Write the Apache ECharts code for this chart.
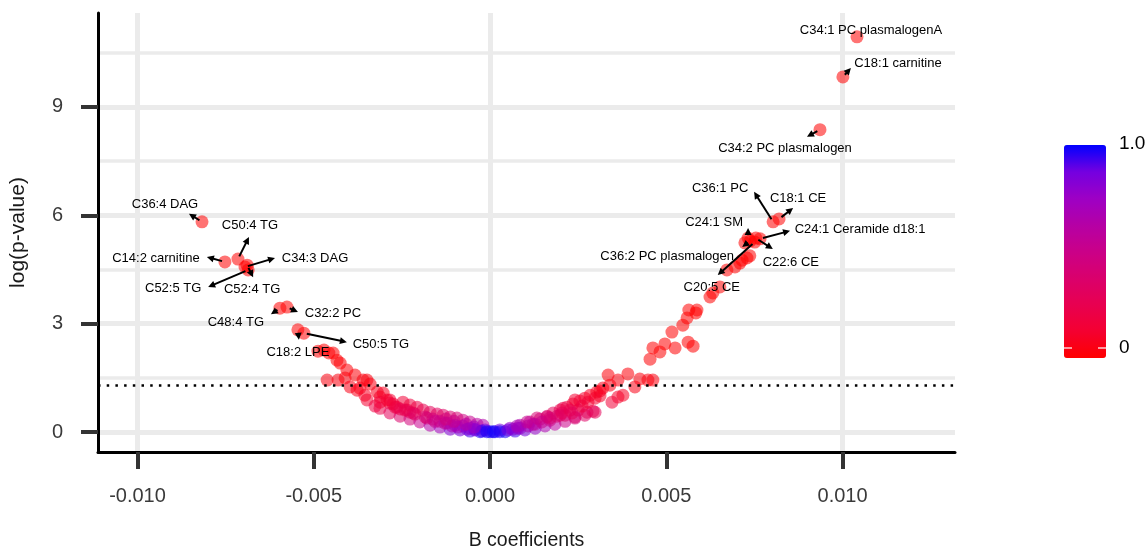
<!DOCTYPE html>
<html>
<head>
<meta charset="utf-8">
<script src="https://cdn.jsdelivr.net/npm/echarts@6/dist/echarts.min.js"></script>
<style>
  html, body { margin: 0; padding: 0; background: #fff; }
  #chart { width: 1148px; height: 549px; }
</style>
</head>
<body>
<div id="chart"></div>
<script>
// unlabeled lipids: B coefficient and -log10(p)
const bCoef = [
  -0.00488, -0.00471, -0.00457, -0.00445, -0.00434, -0.00425, -0.00406, -0.00383, -0.00360, -0.00349,
  -0.00462, -0.00431, -0.00411, -0.00397, -0.00377, -0.00369, -0.00349, -0.00355, -0.00320, -0.00312,
  -0.00312, -0.00284, -0.00284, -0.00264, -0.00235, -0.00218, -0.00340, -0.00303, -0.00247, -0.00227,
  -0.00207, -0.00190, -0.00170, -0.00150, -0.00133, -0.00113, -0.00094, -0.00077, -0.00057, -0.00037,
  -0.00020, -0.00326, -0.00284, -0.00255, -0.00227, -0.00199, -0.00170, -0.00142, -0.00113, -0.00085,
  -0.00057, -0.00028, 0.00000, -0.00312, -0.00269, -0.00227, -0.00184, -0.00142, -0.00099, -0.00057,
  -0.00014, -0.00162, -0.00122, -0.00077, -0.00043,
  -0.00292, -0.00275, -0.00255, -0.00241, -0.00213, -0.00179, -0.00156, -0.00128, -0.00108, -0.00091,
  -0.00065, -0.00043, -0.00023, -0.00009, -0.00125, -0.00102, -0.00068, -0.00045,
  0.00014, 0.00043, 0.00071, 0.00099, 0.00128, 0.00156, 0.00184, 0.00213, 0.00241, 0.00269,
  0.00298, 0.00028, 0.00057, 0.00085, 0.00113, 0.00142, 0.00162, 0.00179, 0.00199, 0.00218,
  0.00235, 0.00255, 0.00269, 0.00284, 0.00303, 0.00320, 0.00340, 0.00085, 0.00128, 0.00170,
  0.00213, 0.00250, 0.00335, 0.00391, 0.00363, 0.00425, 0.00448, 0.00462, 0.00411, 0.00312,
  0.00377, 0.00363, 0.00346, 0.00292, 0.00241, 0.00207, 0.00199, 0.00241, 0.00275, 0.00162,
  0.00133,
  0.00009, 0.00028, 0.00051, 0.00065, 0.00079, 0.00108, 0.00122, 0.00147, 0.00170, 0.00190,
  0.00204, 0.00227, 0.00233, 0.00261, 0.00278, 0.00298, 0.00312, 0.00105, 0.00077,
  0.00454, 0.00482, 0.00496, 0.00462, 0.00525, 0.00562, 0.00576, 0.00516, 0.00547,
  0.00559, 0.00587, 0.00564, 0.00584, 0.00624, 0.00632, 0.00652, 0.00672, 0.00695, 0.00715,
  0.00729, 0.00737, 0.00709, 0.00723
];
const logP = [
  2.24, 2.27, 2.19, 2.19, 1.99, 1.91, 1.72, 1.58, 1.44, 1.44,
  1.44, 1.44, 1.50, 1.25, 1.16, 1.22, 0.89, 1.02, 1.11, 0.97,
  0.66, 0.80, 0.89, 0.69, 0.61, 0.53, 1.33, 1.08, 0.83, 0.75,
  0.69, 0.61, 0.55, 0.50, 0.47, 0.42, 0.39, 0.33, 0.28, 0.22,
  0.19, 0.72, 0.53, 0.44, 0.36, 0.28, 0.19, 0.14, 0.08, 0.06,
  0.03, 0.01, 0.01, 0.83, 0.69, 0.55, 0.42, 0.30, 0.19, 0.11,
  0.06, 0.36, 0.25, 0.17, 0.08,
  0.89, 0.78, 0.64, 0.61, 0.50, 0.39, 0.30, 0.25, 0.17, 0.14,
  0.08, 0.06, 0.03, 0.01, 0.36, 0.30, 0.22, 0.14,
  0.01, 0.01, 0.03, 0.06, 0.11, 0.17, 0.22, 0.30, 0.39, 0.47,
  0.55, 0.06, 0.11, 0.19, 0.28, 0.36, 0.44, 0.53, 0.61, 0.69,
  0.78, 0.86, 0.94, 1.02, 1.11, 1.22, 1.30, 0.11, 0.22, 0.33,
  0.47, 0.61, 1.58, 1.61, 1.44, 1.47, 1.44, 1.44, 1.25, 1.14,
  1.02, 0.97, 0.83, 0.58, 0.89, 0.66, 0.47, 0.42, 0.55, 0.42,
  0.39,
  0.01, 0.01, 0.06, 0.08, 0.11, 0.17, 0.22, 0.28, 0.39, 0.44,
  0.53, 0.61, 0.53, 0.72, 0.83, 0.94, 1.00, 0.28, 0.17,
  2.02, 2.22, 2.44, 2.33, 2.33, 2.49, 2.38, 2.77, 2.96,
  3.16, 3.38, 3.38, 3.30, 3.74, 3.85, 4.02, 4.49, 4.57, 4.76,
  4.82, 4.88, 4.68, 5.24
];

// labeled lipids
const labelNames = [
  'C34:1 PC plasmalogenA', 'C18:1 carnitine', 'C34:2 PC plasmalogen', 'C36:1 PC', 'C18:1 CE',
  'C24:1 SM', 'C24:1 Ceramide d18:1', 'C22:6 CE', 'C36:2 PC plasmalogen', 'C20:5 CE',
  'C36:4 DAG', 'C14:2 carnitine', 'C50:4 TG', 'C34:3 DAG', 'C52:4 TG',
  'C52:5 TG', 'C48:4 TG', 'C32:2 PC', 'C18:2 LPE', 'C50:5 TG'
];
const labelB = [
  0.01041, 0.01001, 0.00936, 0.00803, 0.00820,
  0.00732, 0.00766, 0.00754, 0.00738, 0.00751,
  -0.00817, -0.00752, -0.00715, -0.00695, -0.00689,
  -0.00686, -0.00596, -0.00576, -0.00545, -0.00528
];
const labelLogP = [
  10.94, 9.83, 8.37, 5.82, 5.90,
  5.37, 5.35, 5.37, 5.29, 5.26,
  5.82, 4.71, 4.79, 4.57, 4.62,
  4.49, 3.43, 3.46, 2.83, 2.74
];

const xTicks = [-0.01, -0.005, 0, 0.005, 0.01];
const xMinor = [-0.0075, -0.0025, 0.0025, 0.0075, 0.0125];
const yTicks = [0, 3, 6, 9];
const yMinor = [1.5, 4.5, 7.5, 10.5];
const pCut = 0.05;

// repel-style placement, pixels from the point: arrow end dx, dy, text dx, dy
const labelPos = {
  'C34:1 PC plasmalogenA': [0, 0, 14, -6],
  'C18:1 carnitine': [8, -9, 55, -14],
  'C34:2 PC plasmalogen': [-13, 7, -35, 19],
  'C36:1 PC': [-19, -30, -53, -33],
  'C18:1 CE': [14, -11, 19, -21],
  'C24:1 SM': [0, -10, -34, -16],
  'C24:1 Ceramide d18:1': [30, -8, 100, -9],
  'C22:6 CE': [17, 11, 35, 24],
  'C36:2 PC plasmalogen': [-8, 6, -83, 15],
  'C20:5 CE': [-37, 33, -43, 45],
  'C36:4 DAG': [-13, -8, -37, -17],
  'C14:2 carnitine': [-18, -5, -69, -4],
  'C50:4 TG': [11, -22, 12, -34],
  'C34:3 DAG': [30, -9, 70, -9],
  'C52:4 TG': [6, 12, 5, 24],
  'C52:5 TG': [-40, 17, -75, 19],
  'C48:4 TG': [-9, 6, -44, 14],
  'C32:2 PC': [11, 5, 46, 6],
  'C18:2 LPE': [1, 10, 0, 23],
  'C50:5 TG': [43, 9, 77, 11]
};

const FONT = '"Liberation Sans", Arial, sans-serif';

// p-value is the colour variable
const points = bCoef.map((b, i) => [b, logP[i], Math.pow(10, -logP[i])])
  .concat(labelB.map((b, i) => [b, labelLogP[i], Math.pow(10, -labelLogP[i])]));

const gridLines = []
  .concat(xTicks.map(v => ({ xAxis: v, lineStyle: { width: 5 } })))
  .concat(xMinor.map(v => ({ xAxis: v, lineStyle: { width: 3.5 } })))
  .concat(yTicks.map(v => ({ yAxis: v, lineStyle: { width: 5 } })))
  .concat(yMinor.map(v => ({ yAxis: v, lineStyle: { width: 3.5 } })));

function renderLabel(params, api) {
  const name = labelNames[params.dataIndex];
  const [adx, ady, tdx, tdy] = labelPos[name];
  const p = api.coord([api.value(0), api.value(1)]);
  const kids = [];
  const len = Math.hypot(adx, ady);
  if (len > 0) {
    const ux = adx / len, uy = ady / len;
    const ex = p[0] + adx, ey = p[1] + ady;
    kids.push({
      type: 'line',
      shape: { x1: p[0] + ux * 3, y1: p[1] + uy * 3, x2: ex - ux * 4, y2: ey - uy * 4 },
      style: { stroke: '#000', lineWidth: 2 }
    });
    kids.push({
      type: 'polygon',
      shape: { points: [[ex, ey], [ex - ux * 7 - uy * 3.5, ey - uy * 7 + ux * 3.5], [ex - ux * 7 + uy * 3.5, ey - uy * 7 - ux * 3.5]] },
      style: { fill: '#000' }
    });
  }
  kids.push({
    type: 'text',
    x: p[0] + tdx,
    y: p[1] + tdy,
    style: { text: name, fill: '#000', fontSize: 13, fontFamily: FONT, align: 'center', verticalAlign: 'middle' }
  });
  return { type: 'group', children: kids };
}

const chart = echarts.init(document.getElementById('chart'));
chart.setOption({
  animation: false,
  backgroundColor: '#fff',
  grid: { left: 98, right: 193, top: 13, bottom: 97, outerBoundsMode: 'none', containLabel: false },
  xAxis: {
    type: 'value',
    z: 10,
    min: -0.01112,
    max: 0.01319,
    name: 'B coefficients',
    nameLocation: 'middle',
    nameGap: 79,
    nameTextStyle: { fontSize: 19.5, color: '#1a1a1a', fontFamily: FONT },
    axisLine: { show: true, onZero: false, lineStyle: { color: '#000', width: 3 } },
    axisTick: { show: true, length: 17, customValues: xTicks, lineStyle: { color: '#333', width: 4 } },
    axisLabel: { customValues: xTicks, margin: 34, fontSize: 20, color: '#3a3a3a', fontFamily: FONT, formatter: v => v.toFixed(3) },
    splitLine: { show: false }
  },
  yAxis: {
    type: 'value',
    z: 10,
    min: -0.55,
    max: 11.6,
    name: 'log(p-value)',
    nameLocation: 'middle',
    nameGap: 69,
    nameTextStyle: { fontSize: 21, color: '#1a1a1a', fontFamily: FONT },
    axisLine: { show: true, onZero: false, lineStyle: { color: '#000', width: 3 } },
    axisTick: { show: true, length: 17, customValues: yTicks, lineStyle: { color: '#333', width: 4 } },
    axisLabel: { customValues: yTicks, margin: 35, fontSize: 20, color: '#3a3a3a', fontFamily: FONT, formatter: v => String(Math.round(v)) },
    splitLine: { show: false }
  },
  visualMap: {
    type: 'continuous',
    seriesIndex: 1,
    dimension: 2,
    min: 0,
    max: 1,
    orient: 'vertical',
    left: 1064,
    top: 145,
    padding: 0,
    itemWidth: 42,
    itemHeight: 213,
    calculable: false,
    hoverLink: false,
    text: null,
    showLabel: false,
    inRange: {
      color: ['#ff0000', '#f40031', '#e80050', '#da006c', '#ca0088', '#b500a5', '#9d00c5', '#7400e0', '#0000ff']
    }
  },
  graphic: [
    { type: 'text', left: 1119, top: 134, style: { text: '1.0', fontSize: 19, fill: '#000', fontFamily: FONT } },
    { type: 'text', left: 1119, top: 338, style: { text: '0', fontSize: 19, fill: '#000', fontFamily: FONT } },
    { type: 'line', shape: { x1: 1064, y1: 348, x2: 1072, y2: 348 }, style: { stroke: '#fff', lineWidth: 1.2 }, z: 100 },
    { type: 'line', shape: { x1: 1098, y1: 348, x2: 1106, y2: 348 }, style: { stroke: '#fff', lineWidth: 1.2 }, z: 100 }
  ],
  series: [
    {
      name: 'grid',
      type: 'scatter',
      data: [],
      z: 1,
      silent: true,
      markLine: {
        z: 1,
        silent: true,
        symbol: 'none',
        label: { show: false },
        lineStyle: { color: '#ebebeb', type: 'solid' },
        data: gridLines
      }
    },
    {
      name: 'lipids',
      type: 'scatter',
      data: points,
      symbolSize: 13,
      z: 3,
      itemStyle: { opacity: 0.55 }
    },
    {
      name: 'cutoff',
      type: 'scatter',
      data: [],
      z: 4,
      silent: true,
      markLine: {
        z: 4,
        silent: true,
        symbol: 'none',
        label: { show: false },
        lineStyle: { color: '#000', width: 2.5, type: [2.5, 6.2] },
        data: [{ yAxis: -Math.log10(pCut) }]
      }
    },
    {
      name: 'labels',
      type: 'custom',
      data: labelB.map((b, i) => [b, labelLogP[i]]),
      encode: { x: 0, y: 1 },
      z: 5,
      clip: false,
      silent: true,
      renderItem: renderLabel
    }
  ]
});
</script>
</body>
</html>
